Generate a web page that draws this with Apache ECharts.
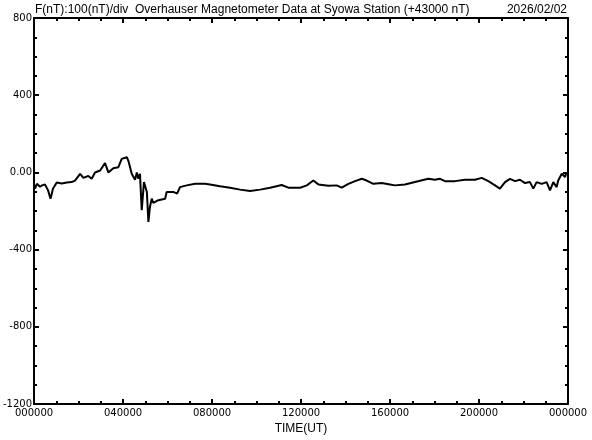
<!DOCTYPE html>
<html>
<head>
<meta charset="utf-8">
<script src="https://cdn.jsdelivr.net/npm/echarts@6/dist/echarts.min.js"></script>
<style>html,body{margin:0;padding:0;background:#fff}#c{width:592px;height:440px}</style>
</head>
<body>
<div id="c"></div>
<script>
// time of day in hours (UT)
const hours = [0.00,0.04,0.13,0.27,0.36,0.49,0.63,0.74,0.85,1.02,1.24,1.47,1.69,1.84,2.07,2.22,2.44,2.59,2.74,2.97,3.19,3.34,3.56,3.79,3.94,4.17,4.24,4.39,4.54,4.62,4.69,4.76,4.84,4.94,5.07,5.14,5.21,5.29,5.36,5.59,5.89,5.96,6.26,6.43,6.56,6.86,7.24,7.69,7.91,8.36,8.81,9.26,9.71,10.16,10.61,11.13,11.43,11.96,12.26,12.55,12.78,13.23,13.60,13.83,14.13,14.43,14.73,14.95,15.25,15.63,16.00,16.22,16.67,17.12,17.72,18.02,18.25,18.47,18.92,19.37,19.82,20.12,20.42,20.72,20.94,21.17,21.39,21.62,21.84,22.07,22.29,22.44,22.59,22.82,23.04,23.19,23.34,23.49,23.56,23.72,23.87,23.93];
// F minus 43000 nT
const fValues = [-59,-84,-59,-74,-67,-62,-93,-136,-85,-52,-57,-52,-50,-42,-7,-28,-18,-33,0,10,48,0,22,27,70,79,60,-7,-38,0,-33,-7,-196,-50,-101,-256,-178,-136,-158,-144,-136,-101,-101,-110,-76,-67,-59,-59,-62,-72,-79,-89,-96,-89,-79,-65,-79,-79,-67,-42,-62,-69,-67,-79,-59,-45,-33,-42,-59,-55,-62,-67,-62,-50,-33,-38,-33,-45,-45,-38,-38,-28,-45,-67,-84,-50,-33,-45,-38,-55,-50,-84,-50,-59,-50,-93,-50,-76,-42,-7,-24,0];
const xTickLabels = ['000000','040000','080000','120000','160000','200000','000000'];
const yTickValues = [-1200,-800,-400,0,400,800];
const yTickLabels = ['-1200','-800','-400','0.00','400','800'];
const titleText = 'F(nT):100(nT)/div  Overhauser Magnetometer Data at Syowa Station (+43000 nT)';
const dateText = '2026/02/02';
const xAxisName = 'TIME(UT)';

const chart = echarts.init(document.getElementById('c'), null, {renderer:'canvas'});
const axLine = {show:true, onZero:false, lineStyle:{color:'#000', width:2}};
const tick = {show:true, inside:true, length:5, lineStyle:{color:'#000', width:2}};
const minor = {show:true, splitNumber:4, length:3, lineStyle:{color:'#000', width:2}};
const lblFont = {color:'#000', fontFamily:'DejaVu Sans', fontSize:10};
chart.setOption({
  animation:false,
  backgroundColor:'#fff',
  title:[
    {text:titleText, left:30, top:-1, textStyle:{fontFamily:'Liberation Sans', fontSize:12, fontWeight:'normal', color:'#000'}},
    {text:dateText, right:20, top:-1, textStyle:{fontFamily:'Liberation Sans', fontSize:12, fontWeight:'normal', color:'#000'}}
  ],
  grid:{left:34, right:24, top:18, bottom:31, containLabel:false},
  xAxis:[
    {type:'value', min:0, max:24, interval:4, position:'bottom',
     axisLine:axLine, axisTick:tick, minorTick:minor, splitLine:{show:false},
     axisLabel:Object.assign({margin:4, formatter:v=>xTickLabels[Math.round(v/4)]}, lblFont),
     name:xAxisName, nameLocation:'middle', nameGap:16,
     nameTextStyle:{fontFamily:'Liberation Sans', fontSize:12, color:'#000', verticalAlign:'top'}},
    {type:'value', min:0, max:24, interval:4, position:'top',
     axisLine:axLine, axisTick:tick, minorTick:minor, splitLine:{show:false},
     axisLabel:{show:false}}
  ],
  yAxis:[
    {type:'value', min:-1200, max:800, interval:400, position:'left',
     axisLine:axLine, axisTick:tick, minorTick:minor, splitLine:{show:false},
     axisLabel:Object.assign({margin:2, formatter:v=>yTickLabels[yTickValues.indexOf(v)]}, lblFont)},
    {type:'value', min:-1200, max:800, interval:400, position:'right',
     axisLine:axLine, axisTick:tick, minorTick:minor, splitLine:{show:false},
     axisLabel:{show:false}}
  ],
  series:[{
    type:'line', xAxisIndex:0, yAxisIndex:0, showSymbol:false, symbol:'none',
    data:hours.map((h,i)=>[h,fValues[i]]),
    lineStyle:{color:'#000', width:2}
  }]
});
</script>
</body>
</html>
